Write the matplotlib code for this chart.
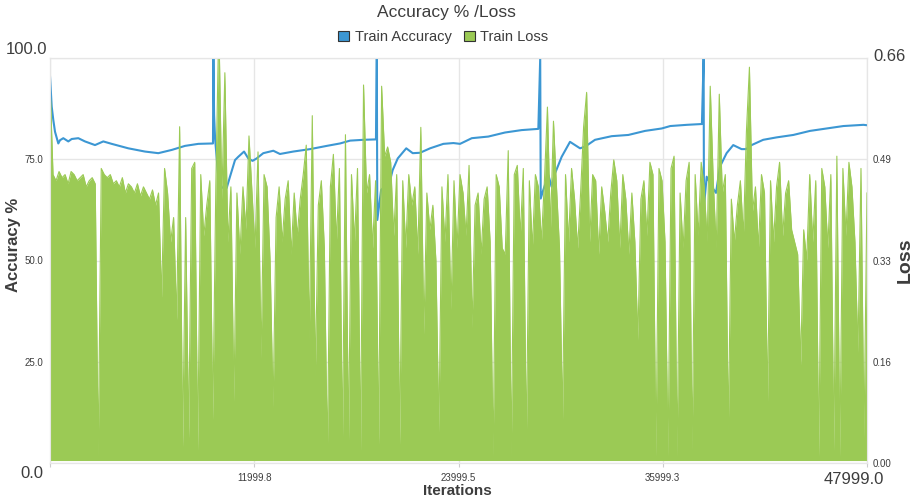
import numpy as np
import matplotlib.pyplot as plt
from matplotlib.patches import Patch

plt.rcParams['font.family'] = ['Liberation Sans', 'DejaVu Sans']

BLUE = '#3c97d3'
GREEN = '#9bca55'
TEXT = '#3d3d3d'
GRID = '#e6e6e6'

# train accuracy (%), running mean that restarts every epoch (9600 iterations)
acc_iter = [0, 100, 194, 294, 488, 588, 781, 1075, 1275, 1663, 2056, 2644, 3131, 3625, 4600,
            5581, 6363, 7150, 7931, 8713, 9575,
            9600, 9640, 9700, 9760, 9900, 10100, 10380, 10575, 10870, 11060, 11400, 11650, 11900,
            12140, 12530, 13120, 13510, 14290, 15280, 16260, 17040, 17630, 18410, 19150,
            19200, 19230, 19450, 19650, 19840, 20130, 20430, 20930, 21310, 21740, 22330, 23110,
            23700, 24090, 24780, 25750, 26730, 27710, 28690,
            28800, 28830, 28980, 29280, 29470, 29670, 30060, 30550, 31140, 31430, 32020, 33000,
            33980, 34960, 35940, 36440, 37420, 38300,
            38400, 38420, 38580, 38875, 39128, 39362, 39750, 40140, 40630, 40890, 41220, 41900,
            42690, 43670, 44650, 45630, 46610, 47790, 47999]
acc_value = [95.5, 88.0, 84.7, 81.8, 78.9, 79.7, 80.2, 79.4, 80.0, 80.2, 79.4, 78.5, 79.4, 78.8, 77.7,
             76.9, 76.5, 77.3, 78.3, 78.8, 78.9,
             100.0, 86.0, 80.0, 77.0, 70.0, 68.0, 67.9, 70.7, 74.8, 75.6, 76.9, 75.2, 74.6,
             75.2, 76.5, 77.1, 76.3, 76.9, 77.5, 78.3, 78.9, 79.6, 79.8, 79.9,
             100.0, 60.0, 67.4, 68.2, 67.4, 72.3, 75.2, 77.7, 76.5, 76.6, 77.7, 78.8,
             79.0, 78.8, 80.2, 80.6, 81.6, 82.2, 82.5,
             100.0, 65.3, 67.4, 71.1, 68.2, 71.5, 75.6, 79.3, 77.7, 78.1, 79.8, 80.7,
             81.0, 82.0, 82.6, 83.2, 83.5, 83.7,
             100.0, 63.3, 70.7, 68.2, 66.7, 73.2, 76.5, 78.5, 77.5, 77.5, 78.5, 79.8,
             80.4, 81.0, 82.0, 82.6, 83.2, 83.5, 83.4]

# train loss: peak value in each of 272 equal iteration bins
loss_top = [0.62,
            0.47, 0.46, 0.475, 0.465, 0.47, 0.455, 0.475, 0.47, 0.46, 0.465, 0.47, 0.45, 0.46, 0.465, 0.455, 0.01,
            0.48, 0.47, 0.465, 0.47, 0.455, 0.46, 0.45, 0.465, 0.44, 0.455, 0.45, 0.44, 0.455, 0.435, 0.45, 0.44,
            0.43, 0.445, 0.42, 0.44,
            0.27, 0.48, 0.44, 0.36, 0.40, 0.233, 0.548, 0.026, 0.40, 0.04, 0.48, 0.49, 0.02, 0.47, 0.37, 0.42,
            0.46, 0.07, 0.45,
            0.72, 0.43, 0.636, 0.36, 0.45, 0.10, 0.44, 0.34, 0.45, 0.38, 0.533, 0.44, 0.35, 0.507, 0.17, 0.47,
            0.45, 0.33, 0.09, 0.40,
            0.45, 0.36, 0.43, 0.46, 0.34, 0.44, 0.37, 0.43, 0.47, 0.518, 0.20, 0.566, 0.14, 0.42, 0.46, 0.35,
            0.01, 0.45, 0.503, 0.36, 0.48, 0.03, 0.535, 0.03, 0.47, 0.36, 0.48, 0.02, 0.616, 0.44, 0.47, 0.35,
            0.46,
            0.03, 0.614, 0.50, 0.515, 0.49, 0.37, 0.47, 0.03, 0.46, 0.35, 0.47, 0.42, 0.45, 0.34, 0.547, 0.21,
            0.44,
            0.38, 0.42, 0.33, 0.05, 0.45, 0.36, 0.47, 0.25, 0.46, 0.35, 0.47,
            0.44, 0.37, 0.485, 0.22, 0.42, 0.44, 0.34, 0.43, 0.45, 0.36, 0.01, 0.47, 0.45, 0.35, 0.34, 0.509,
            0.01, 0.47, 0.485, 0.37, 0.48, 0.03, 0.46, 0.35, 0.47, 0.45, 0.36, 0.46, 0.58, 0.38, 0.557, 0.45,
            0.35, 0.07,
            0.47, 0.36, 0.48, 0.43, 0.35, 0.44, 0.548, 0.604, 0.36, 0.47, 0.46, 0.34, 0.45, 0.41, 0.36, 0.44,
            0.494, 0.46, 0.35, 0.47, 0.43, 0.34, 0.44, 0.36, 0.20, 0.43, 0.46, 0.37, 0.49, 0.47, 0.01, 0.48,
            0.46, 0.36,
            0.01, 0.48, 0.50, 0.01, 0.44, 0.35, 0.46, 0.49, 0.02, 0.47, 0.37, 0.49, 0.45, 0.36, 0.614, 0.46,
            0.35, 0.601, 0.44, 0.47, 0.05, 0.43, 0.36, 0.42, 0.46, 0.37, 0.54, 0.645, 0.41,
            0.45, 0.35, 0.47, 0.44, 0.10, 0.46, 0.36, 0.45, 0.49, 0.37, 0.44, 0.46, 0.38, 0.36, 0.34, 0.16,
            0.38, 0.33, 0.47, 0.36, 0.46, 0.01, 0.48, 0.45, 0.35, 0.47, 0.02, 0.50, 0.01, 0.48, 0.37, 0.49,
            0.45, 0.36, 0.18, 0.48, 0.04, 0.44]
loss_floor = 0.004

last_iter = 47999
x_ticks = [11999.75, 23999.5, 35999.25]
x_tick_labels = ['11999.8', '23999.5', '35999.3']
acc_ticks = [25, 50, 75]
acc_tick_labels = ['25.0', '50.0', '75.0']
loss_ticks = [0.165, 0.33, 0.495]
loss_tick_labels = ['0.16', '0.33', '0.49']

fig = plt.figure(figsize=(9.18, 5.01), dpi=100)
ax1 = fig.add_axes([50 / 918, 38 / 501, 817 / 918, 405 / 501])
ax2 = ax1.twinx()

# accuracy underneath, loss drawn over it
ax1.plot(acc_iter, acc_value, color=BLUE, lw=1.5, zorder=3)

loss_x = np.linspace(0, last_iter, len(loss_top))
ax2.fill_between(loss_x, loss_floor, loss_top, color=GREEN, lw=0)
ax2.plot(loss_x, loss_top, color=GREEN, lw=0.8)

ax1.set_xlim(0, last_iter)
ax1.set_ylim(0, 100)
ax2.set_ylim(0, 0.66)

ax1.set_xticks([0] + x_ticks + [last_iter])
ax1.set_xticklabels([''] + x_tick_labels + [''])
ax1.set_yticks([0] + acc_ticks + [100])
ax1.set_yticklabels([''] + acc_tick_labels + [''])
ax2.set_yticks([0] + loss_ticks + [0.66])
ax2.set_yticklabels(['0.00'] + loss_tick_labels + [''])

ax1.grid(color=GRID, lw=1)
ax1.set_axisbelow(True)
for ax in (ax1, ax2):
    for sp in ax.spines.values():
        sp.set_color(GRID)
ax1.tick_params(axis='y', length=0, labelsize=7, labelcolor=TEXT, pad=5)
ax1.tick_params(axis='x', length=3, color='#cccccc', labelsize=7, labelcolor=TEXT, pad=4)
ax2.tick_params(axis='y', length=0, labelsize=7, labelcolor=TEXT, pad=4)

# larger end labels
ax1.annotate('100.0', xy=(0, 100), xycoords=('axes fraction', 'data'), xytext=(-3, 8),
             textcoords='offset pixels', ha='right', va='center', fontsize=12, color=TEXT)
ax1.annotate('0.0', xy=(0, 0), xycoords=('axes fraction', 'data'), xytext=(-7, -10),
             textcoords='offset pixels', ha='right', va='center', fontsize=12, color=TEXT)
ax2.annotate('0.66', xy=(1, 0.66), xycoords=('axes fraction', 'data'), xytext=(6, 2),
             textcoords='offset pixels', ha='left', va='center', fontsize=12, color=TEXT)
ax1.annotate('47999.0', xy=(last_iter, 0), xycoords=('data', 'axes fraction'), xytext=(-13, -16),
             textcoords='offset pixels', ha='center', va='center', fontsize=12, color=TEXT)

fig.text(446 / 918, 1 - 13 / 501, 'Accuracy % /Loss', ha='center', va='center', fontsize=12.5, color=TEXT)
fig.text(14 / 918, 1 - 245 / 501, 'Accuracy %', rotation=90, ha='center', va='center',
         fontsize=12, fontweight='bold', color=TEXT)
fig.text(905 / 918, 1 - 260 / 501, 'Loss', rotation=90, ha='center', va='center',
         fontsize=14, fontweight='bold', color=TEXT)
fig.text(457 / 918, 1 - 491 / 501, 'Iterations', ha='center', va='center',
         fontsize=11, fontweight='bold', color=TEXT)

handles = [Patch(facecolor=BLUE, edgecolor='#333333', lw=0.8, label='Train Accuracy'),
           Patch(facecolor=GREEN, edgecolor='#333333', lw=0.8, label='Train Loss')]
leg = fig.legend(handles=handles, loc='center', bbox_to_anchor=(0.483, 1 - 37 / 501), ncol=2,
                 frameon=False, fontsize=10.5, handlelength=0.75, handleheight=0.75,
                 handletextpad=0.4, columnspacing=0.8)
for t in leg.get_texts():
    t.set_color(TEXT)

fig.savefig('out.png', dpi=100)
